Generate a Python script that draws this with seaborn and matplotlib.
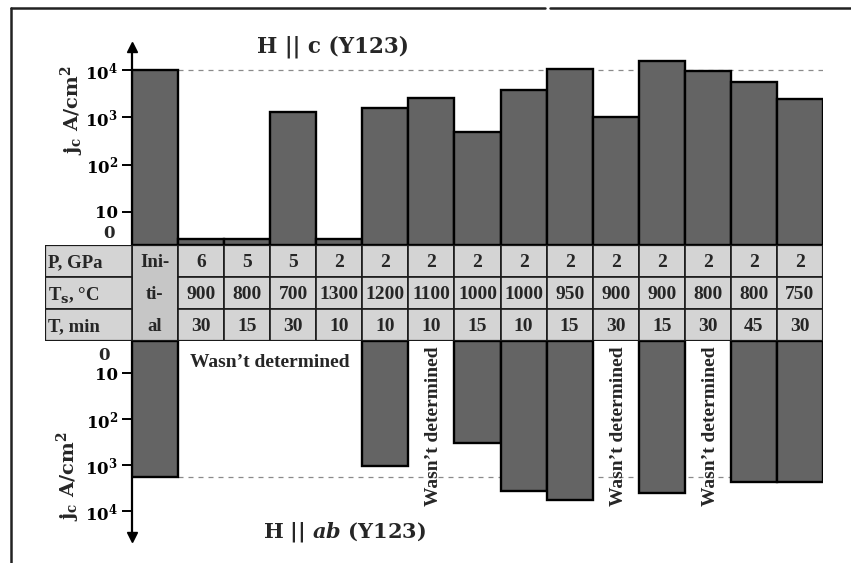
import numpy as np
import pandas as pd
import matplotlib
matplotlib.use("Agg")
import matplotlib.pyplot as plt
from matplotlib.patches import Rectangle
from matplotlib.lines import Line2D
import seaborn as sns

# columns: initial sample + 14 HP-treated samples
cols = ["init", "c1", "c2", "c3", "c4", "c5", "c6", "c7", "c8", "c9", "c10", "c11", "c12", "c13", "c14"]
jc_c = [1.0e4, 1.8, 1.8, 1.29e3, 1.8, 1.57e3, 2.56e3, 490, 3.78e3, 1.05e4, 1.01e3, 1.55e4, 9.5e3, 5.6e3, 2.44e3]
jc_ab = [1.81e3, np.nan, np.nan, np.nan, np.nan, 1.04e3, np.nan, 330, 3.63e3, 5.7e3, np.nan, 4.0e3, np.nan, 2.3e3, 2.3e3]

pressure = [6, 5, 5, 2, 2, 2, 2, 2, 2, 2, 2, 2, 2, 2]
temp_s = [900, 800, 700, 1300, 1200, 1100, 1000, 1000, 950, 900, 900, 800, 800, 750]
time_min = [30, 15, 30, 10, 10, 10, 15, 10, 15, 30, 15, 30, 45, 30]
row_labels = ["P, GPa", "T$_\\mathbf{s}$, °C", "T, min"]
initial_text = ["Ini-", "ti-", "al"]

yticks = [10, 100, 1000, 10000]
ytick_labels = ["10", "$10^2$", "$10^3$", "$10^4$"]

sns.set_theme(style="white")
plt.rcParams["font.family"] = ["Liberation Serif", "DejaVu Serif"]
plt.rcParams["font.weight"] = "bold"
plt.rcParams["mathtext.fontset"] = "custom"
plt.rcParams["mathtext.rm"] = "DejaVu Serif:bold"
plt.rcParams["mathtext.bf"] = "DejaVu Serif:bold"
plt.rcParams["mathtext.it"] = "DejaVu Serif:italic:bold"
plt.rcParams["mathtext.default"] = "bf"
wide = ["DejaVu Serif"]

W, H = 851, 563
fig = plt.figure(figsize=(W / 100, H / 100), dpi=100)


def box(x0, y0, x1, y1):
    # pixel box (top-left origin) -> figure fraction rect
    return [x0 / W, 1 - y1 / H, (x1 - x0) / W, (y1 - y0) / H]


bar_color = "#646464"
ax_top = fig.add_axes(box(132, 47, 823, 245))
ax_bot = fig.add_axes(box(132, 341, 823, 537))
ax_tab = fig.add_axes(box(45, 245, 823, 341))

df = pd.DataFrame({"col": cols, "jc_c": jc_c, "jc_ab": jc_ab})

sns.barplot(data=df, x="col", y="jc_c", order=cols, ax=ax_top, color=bar_color,
            saturation=1, width=1, edgecolor="black", linewidth=1.7, zorder=3)
sns.barplot(data=df.dropna(), x="col", y="jc_ab", order=cols, ax=ax_bot, color=bar_color,
            saturation=1, width=1, edgecolor="black", linewidth=1.7, zorder=3)

for ax in [ax_top, ax_bot]:
    ax.set_yscale("symlog", linthresh=10, linscale=0.63)
    ax.set_xlim(-0.5, 14.5)
    ax.set_yticks(yticks)
    ax.set_yticklabels(ytick_labels, fontfamily=wide, fontsize=12)
    ax.minorticks_off()
    ax.set_xticks([])
    ax.set_xlabel("")
    ax.set_ylabel("")
    for s in ["top", "right", "bottom"]:
        ax.spines[s].set_visible(False)
    ax.spines["left"].set_linewidth(1.6)
    ax.spines["left"].set_color("black")
    ax.tick_params(axis="y", left=True, direction="out", length=7, width=1.4, pad=3, colors="black")
    ax.patch.set_alpha(0)

ax_top.set_ylim(0, 3.06e4)
ax_bot.set_ylim(3.63e4, 0)

# arrows at the ends of the axes
ax_top.plot(0, 1, marker="^", color="black", markersize=7, transform=ax_top.transAxes, clip_on=False)
ax_bot.plot(0, 0, marker="v", color="black", markersize=7, transform=ax_bot.transAxes, clip_on=False)

# "0" labels near the baseline
ax_top.text(-0.025, 12 / 198, "0", transform=ax_top.transAxes, ha="right", va="center",
            fontsize=12, fontfamily=wide)
ax_bot.text(-0.032, 1 - 14 / 196, "0", transform=ax_bot.transAxes, ha="right", va="center",
            fontsize=12, fontfamily=wide)

# reference level of the initial sample
ax_top.hlines(jc_c[0], 0.5, 14.5, colors="#8a8a8a", linestyles=(0, (4, 4)), lw=0.9, zorder=1)
ax_bot.hlines(jc_ab[0], 0.5, 14.5, colors="#8a8a8a", linestyles=(0, (4, 4)), lw=0.9, zorder=1)

# "Wasn't determined" notes for missing H||ab values
missing = [i for i, v in enumerate(jc_ab) if np.isnan(v)]
grouped = [i for i in missing if 1 <= i <= 4]
xform = ax_bot.get_xaxis_transform()
ax_bot.text(np.mean(grouped), 0.888, "Wasn\u2019t determined", transform=xform,
            ha="center", va="center", fontsize=14)
for i in missing:
    if i in grouped:
        continue
    ax_bot.text(i + 0.05, 0.565, "Wasn\u2019t determined", transform=xform, rotation=90,
                ha="center", va="center", fontsize=14)

# table of treatment parameters
left = -0.5 - 87 / 46.07
ax_tab.set_xlim(left, 14.5)
ax_tab.set_ylim(3, 0)
ax_tab.axis("off")
cell_fc = "#d4d4d4"
edge = "#1a1a1a"
ax_tab.add_patch(Rectangle((-0.5, 0), 1, 3, fc="#c6c6c6", ec=edge, lw=1.2))
for r in range(3):
    ax_tab.add_patch(Rectangle((left, r), -0.5 - left, 1, fc=cell_fc, ec=edge, lw=1.2))
    ax_tab.text(left + 0.07, r + 0.55, row_labels[r], ha="left", va="center", fontsize=13.5)
    ax_tab.text(0, r + 0.55, initial_text[r], ha="center", va="center", fontsize=13.5)
    row_vals = [pressure, temp_s, time_min][r]
    for j, v in enumerate(row_vals):
        x = j + 1
        ax_tab.add_patch(Rectangle((x - 0.5, r), 1, 1, fc=cell_fc, ec=edge, lw=1.2))
        ax_tab.text(x, r + 0.55, str(v), ha="center", va="center", fontsize=14)
ax_tab.add_patch(Rectangle((left, 0), 14.5 - left, 3, fc="none", ec=edge, lw=1.6))

# titles and axis labels
fig.text(333 / W, 1 - 47 / H, "H || c (Y123)", ha="center", va="center", fontsize=15.5, fontfamily=wide)
fig.text(344 / W, 1 - 532 / H, "H || $\\mathit{ab}$ (Y123)", ha="center", va="center",
         fontsize=15, fontfamily=wide)
fig.text(72 / W, 1 - 110 / H, "j$_\\mathbf{c}$ A/cm$^\\mathbf{2}$", rotation=90, ha="center", va="center",
         fontsize=14, fontfamily=wide)
fig.text(68 / W, 1 - 476 / H, "j$_\\mathbf{c}$ A/cm$^\\mathbf{2}$", rotation=90, ha="center", va="center",
         fontsize=14, fontfamily=wide)

# frame of the scanned figure
for xs, ys in [([11, 11], [8, 563]), ([11, 545], [8, 8]), ([550, 851], [8, 8])]:
    fig.add_artist(Line2D([x / W for x in xs], [1 - y / H for y in ys], color="#222222", lw=1.8))

fig.savefig("out.png", dpi=100)
